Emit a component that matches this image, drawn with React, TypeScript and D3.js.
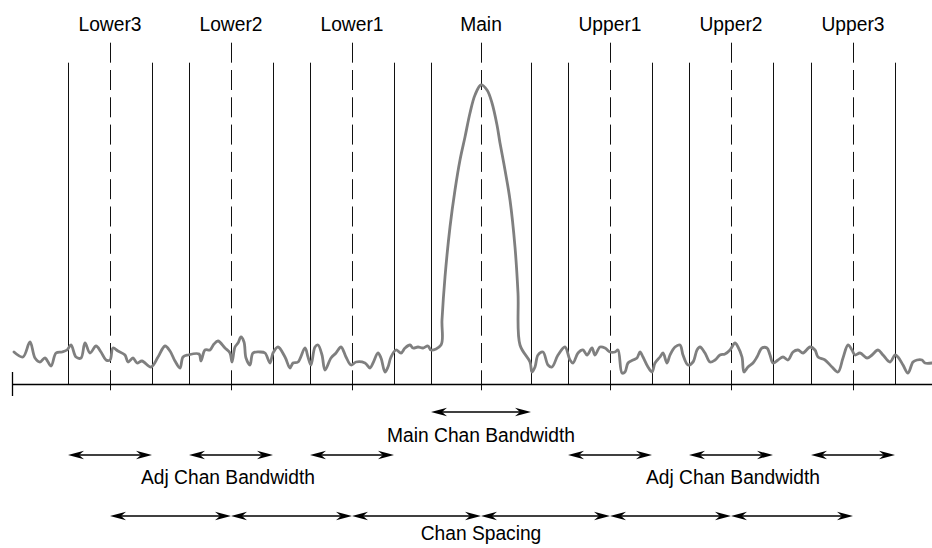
import React from "react";
import * as d3 from "d3";

// Channel definitions (frequency offset relative to main channel centre, arbitrary units)
const channelNames = ["Lower3", "Lower2", "Lower1", "Main", "Upper1", "Upper2", "Upper3"];
const channelCenters = [-371, -250, -129, 0, 129, 250, 372];
const mainBandwidth = 100;
const adjBandwidth = 84;

// Spectrum trace: frequency offsets and levels (height above baseline)
const traceFreq = [
  -467, -458, -451, -446, -441, -436, -430, -425, -419, -414, -410, -405, -400, -396, -391, -385, -380, -375, -371, -368,
  -363, -356, -353, -348, -344, -339, -330, -323, -316, -311, -306, -301, -298, -293, -282, -280, -276, -271, -267, -263,
  -256, -251, -249, -246, -243, -240, -237, -235, -231, -228, -221, -216, -211, -208, -203, -196, -191, -188, -183, -176,
  -173, -170, -166, -163, -159, -156, -150, -145, -140, -135, -130, -125, -116, -111, -108, -103, -100, -96, -93, -90,
  -85, -80, -76, -71, -68, -63, -58, -53, -50,
  -40, -39, -36, -31, -26, -21, -16, -11, -6, 0, 6, 11, 16, 19, 24, 29, 34, 37, 39,
  49, 51, 54, 57, 62, 67, 71, 77, 84, 89, 92, 97, 102, 106, 111, 114, 119, 124, 129, 134,
  137, 141, 144, 147, 152, 156, 159, 162, 167, 171, 174, 179, 182, 186, 189, 194, 199, 202, 207, 212,
  216, 219, 224, 229, 234, 239, 244, 249, 254, 257, 261, 263, 267, 272, 276, 281, 286, 289, 292, 297,
  302, 307, 312, 317, 322, 329, 334, 337, 344, 351, 357, 362, 367, 371, 374, 379, 386, 391, 397, 402,
  409, 414, 417, 422, 427, 432, 436, 441, 444, 451,
];
const traceLevel = [
  32, 27, 42, 26, 22, 26, 18, 31, 32, 34, 39, 27, 26, 41, 31, 38, 32, 24, 24, 36,
  33, 29, 22, 26, 21, 23, 17, 27, 38, 33, 23, 16, 27, 29, 30, 23, 34, 34, 40, 43,
  36, 31, 22, 37, 41, 47, 42, 26, 19, 31, 32, 31, 21, 31, 37, 27, 16, 21, 22, 36,
  27, 19, 37, 39, 29, 14, 26, 31, 37, 27, 19, 22, 21, 16, 21, 31, 26, 12, 17, 27,
  34, 31, 36, 39, 36, 37, 36, 38, 34,
  39, 64, 107, 157, 194, 224, 247, 271, 289, 299, 294, 281, 259, 241, 214, 184, 137, 91, 39,
  22, 12, 17, 29, 32, 19, 17, 29, 37, 24, 21, 31, 34, 29, 36, 29, 37, 36, 32, 32,
  34, 11, 12, 21, 24, 26, 32, 27, 17, 12, 21, 27, 31, 21, 29, 37, 39, 29, 19, 22,
  34, 37, 31, 22, 24, 29, 30, 34, 41, 37, 27, 12, 17, 21, 27, 36, 36, 29, 21, 24,
  27, 24, 32, 34, 31, 37, 34, 27, 24, 17, 12, 26, 39, 34, 29, 31, 26, 29, 34, 29,
  22, 29, 27, 19, 11, 22, 24, 24, 21, 21,
];

const annotations = {
  main: "Main Chan Bandwidth",
  adj: "Adj Chan Bandwidth",
  spacing: "Chan Spacing",
};

const W = 932;
const H = 548;
const FONT = "'Liberation Sans', Arial, Helvetica, sans-serif";
const FONT_SIZE = 21;
const X_SQUEEZE = 0.915;

function Label({ x, y, children }: { x: number; y: number; children: React.ReactNode }) {
  return (
    <text
      transform={`translate(${x},${y}) scale(${X_SQUEEZE},1)`}
      textAnchor="middle"
      fill="#000"
      style={{ fontFamily: FONT, fontSize: FONT_SIZE }}
    >
      {children}
    </text>
  );
}

function ArrowHead({ x, y, dir }: { x: number; y: number; dir: 1 | -1 }) {
  const L = 16;
  const hw = 4.2;
  const n = 11;
  const d = `M${x},${y} L${x - dir * L},${y - hw} L${x - dir * n},${y} L${x - dir * L},${y + hw} Z`;
  return <path d={d} fill="#000" />;
}

function DoubleArrow({ x1, x2, y }: { x1: number; x2: number; y: number }) {
  return (
    <g>
      <line x1={x1 + 6} x2={x2 - 6} y1={y} y2={y} stroke="#000" strokeWidth={1.4} />
      <ArrowHead x={x1} y={y} dir={-1} />
      <ArrowHead x={x2} y={y} dir={1} />
    </g>
  );
}

const crisp = (v: number) => Math.round(v) + 0.5;

export default function App() {
  const x = d3.scaleLinear().domain([-481, 451]).range([0, 932]);
  const y = d3.scaleLinear().domain([0, 300]).range([384, 84]);

  const pts: [number, number][] = traceFreq.map((f, i) => [x(f), y(traceLevel[i])]);
  const line = d3.line().curve(d3.curveCatmullRom.alpha(0.5))(pts) || "";

  const baseY = y(0);
  const labelY = 31;
  const dashTop = 42.7;
  const dashBottom = 390.3;
  const solidTop = 62.7;
  const mainArrowY = 412;
  const adjArrowY = 455;
  const spacingArrowY = 516;

  const mainIdx = channelNames.indexOf("Main");
  const edges: number[] = [];
  channelCenters.forEach((c, i) => {
    const bw = i === mainIdx ? mainBandwidth : adjBandwidth;
    edges.push(c - bw / 2, c + bw / 2);
  });

  return (
    <svg
      width={W}
      height={H}
      viewBox={`0 0 ${W} ${H}`}
      style={{ position: "absolute", left: 0, top: 0, background: "#fff" }}
    >
      {/* channel labels */}
      {channelNames.map((n, i) => (
        <Label key={n} x={x(channelCenters[i])} y={labelY}>
          {n}
        </Label>
      ))}

      {/* dashed centre lines */}
      {channelCenters.map((c) => (
        <line
          key={"d" + c}
          x1={crisp(x(c))}
          x2={crisp(x(c))}
          y1={dashTop}
          y2={dashBottom}
          stroke="#111"
          strokeWidth={1}
          strokeDasharray="20,7.3"
        />
      ))}

      {/* bandwidth edge lines */}
      {edges.map((e, i) => (
        <line
          key={"e" + i}
          x1={crisp(x(e))}
          x2={crisp(x(e))}
          y1={solidTop}
          y2={baseY}
          stroke="#111"
          strokeWidth={1}
        />
      ))}

      {/* baseline axis */}
      <line x1={12.5} x2={W} y1={crisp(baseY)} y2={crisp(baseY)} stroke="#000" strokeWidth={1.3} />
      <line x1={12.5} x2={12.5} y1={baseY - 12} y2={baseY + 12} stroke="#000" strokeWidth={1.3} />

      {/* spectrum trace */}
      <path d={line} fill="none" stroke="#7f7f7f" strokeWidth={2.8} strokeLinejoin="round" strokeLinecap="round" />

      {/* Main channel bandwidth */}
      <DoubleArrow
        x1={x(channelCenters[mainIdx] - mainBandwidth / 2)}
        x2={x(channelCenters[mainIdx] + mainBandwidth / 2)}
        y={mainArrowY}
      />
      <Label x={x(channelCenters[mainIdx])} y={442}>
        {annotations.main}
      </Label>

      {/* Adjacent channel bandwidths */}
      {channelCenters.map((c, i) =>
        i === mainIdx ? null : (
          <DoubleArrow key={"a" + i} x1={x(c - adjBandwidth / 2)} x2={x(c + adjBandwidth / 2)} y={adjArrowY} />
        )
      )}
      <Label x={x(channelCenters[1]) - 3} y={484}>
        {annotations.adj}
      </Label>
      <Label x={x(channelCenters[5]) + 2} y={484}>
        {annotations.adj}
      </Label>

      {/* Channel spacing */}
      {channelCenters.slice(0, -1).map((c, i) => (
        <DoubleArrow key={"s" + i} x1={x(c)} x2={x(channelCenters[i + 1])} y={spacingArrowY} />
      ))}
      <Label x={x(channelCenters[mainIdx])} y={540}>
        {annotations.spacing}
      </Label>
    </svg>
  );
}
